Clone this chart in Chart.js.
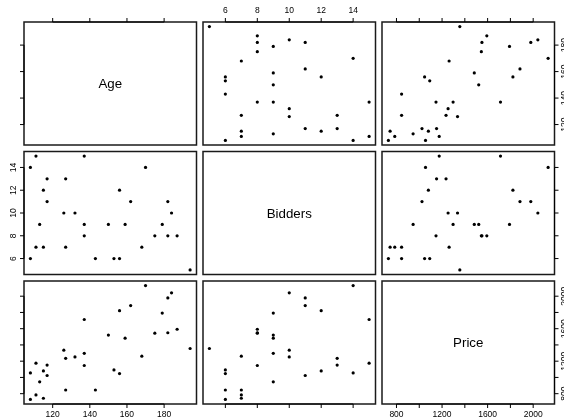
<!DOCTYPE html>
<html><head><meta charset="utf-8">
<script src="https://cdn.jsdelivr.net/npm/chart.js@4"></script>
<style>
html,body{margin:0;padding:0;background:#fff;overflow:hidden;width:564px;height:417px;}
canvas{position:absolute;left:0;top:0;}
</style></head><body>
<script>
// Variables (diagonal labels)
const variableNames = ["Age", "Bidders", "Price"];
// Observations (grandfather clock auctions)
const age = [127,115,127,150,156,182,156,132,137,113,137,117,137,153,117,126,170,182,162,184,143,159,108,175,108,179,111,187,111,115,194,168];
const bidders = [13,12,7,9,6,11,12,10,9,9,15,11,8,6,13,10,14,8,11,10,6,9,14,8,6,9,15,8,7,7,5,7];
const price = [1235,1080,845,1522,1047,1979,1822,1253,1297,946,1713,1024,1147,1092,1152,1336,2131,1550,1884,2041,845,1483,1055,1545,729,1792,1175,1593,785,744,1356,1262];
// Tick values and labels
const ageTicks = [120,140,160,180];
const ageTickLabels = ["120","140","160","180"];
const bidderTicks = [6,8,10,12,14];
const bidderTickLabels = ["6","8","10","12","14"];
const priceTicks = [800,1000,1200,1400,1600,1800,2000];
const priceTickLabels = ["800","","1200","","1600","","2000"];

const vars = [
  {name: variableNames[0], values: age, ticks: ageTicks, labels: ageTickLabels},
  {name: variableNames[1], values: bidders, ticks: bidderTicks, labels: bidderTickLabels},
  {name: variableNames[2], values: price, ticks: priceTicks, labels: priceTickLabels}
];
vars.forEach(v => {
  const mn = Math.min(...v.values), mx = Math.max(...v.values), ext = (mx - mn) * 0.04;
  v.min = mn - ext; v.max = mx + ext;
});

const W = 564, H = 417;
const colLeft = [24, 203, 382];
const colW = 172.5;
const rowTop = [22, 151.5, 281];
const rowH = 123;

const TICK_FONT = '8.5px "Liberation Sans", Arial, Helvetica, sans-serif';
const LABEL_FONT = '13.3px "Liberation Sans", Arial, Helvetica, sans-serif';

const panelPlugin = {
  id: 'panel',
  afterDraw(chart, args, opts) {
    const ctx = chart.ctx, a = chart.chartArea;
    ctx.save();
    ctx.strokeStyle = '#1a1a1a';
    ctx.lineWidth = 1.5;
    ctx.strokeRect(a.left, a.top, a.right - a.left, a.bottom - a.top);
    if (opts.label) {
      ctx.fillStyle = '#000';
      ctx.font = LABEL_FONT;
      ctx.textAlign = 'center';
      ctx.textBaseline = 'middle';
      ctx.fillText(opts.label, (a.left + a.right) / 2, (a.top + a.bottom) / 2 + 1);
    }
    ctx.font = TICK_FONT;
    ctx.fillStyle = '#000';
    ctx.textAlign = 'center';
    ctx.textBaseline = 'middle';
    for (const ax of (opts.axes || [])) {
      const horiz = ax.side === 'top' || ax.side === 'bottom';
      const scale = horiz ? chart.scales.x : chart.scales.y;
      const pos = ax.ticks.map(t => scale.getPixelForValue(t));
      ctx.strokeStyle = '#000';
      ctx.lineWidth = 1;
      ctx.beginPath();
      if (horiz) {
        const y0 = ax.side === 'top' ? a.top : a.bottom;
        const d = ax.side === 'top' ? -4 : 4;
        ctx.moveTo(pos[0], y0); ctx.lineTo(pos[pos.length - 1], y0);
        pos.forEach(p => { ctx.moveTo(p, y0); ctx.lineTo(p, y0 + d); });
      } else {
        const x0 = ax.side === 'left' ? a.left : a.right;
        const d = ax.side === 'left' ? -4 : 4;
        ctx.moveTo(x0, pos[0]); ctx.lineTo(x0, pos[pos.length - 1]);
        pos.forEach(p => { ctx.moveTo(x0, p); ctx.lineTo(x0 + d, p); });
      }
      ctx.stroke();
      if (ax.showLabels) {
        ax.labels.forEach((lab, i) => {
          if (!lab) return;
          const p = pos[i];
          if (ax.side === 'top') ctx.fillText(lab, p, a.top - 11);
          else if (ax.side === 'bottom') ctx.fillText(lab, p, a.bottom + 10.5);
          else {
            const x = ax.side === 'left' ? a.left - 10.5 : a.right + 10.5;
            ctx.save();
            ctx.translate(x, p);
            ctx.rotate(-Math.PI / 2);
            ctx.fillText(lab, 0, 0);
            ctx.restore();
          }
        });
      }
    }
    ctx.restore();
  }
};

for (let r = 0; r < 3; r++) {
  for (let c = 0; c < 3; c++) {
    const xv = vars[c], yv = vars[r];
    const axes = [];
    if (r === 0) axes.push({side: 'top', ticks: xv.ticks, labels: xv.labels, showLabels: c % 2 === 1});
    if (r === 2) axes.push({side: 'bottom', ticks: xv.ticks, labels: xv.labels, showLabels: c % 2 === 0});
    if (c === 0) axes.push({side: 'left', ticks: yv.ticks, labels: yv.labels, showLabels: r % 2 === 1});
    if (c === 2) axes.push({side: 'right', ticks: yv.ticks, labels: yv.labels, showLabels: r % 2 === 0});
    const pts = (r === c) ? [] : xv.values.map((x, i) => ({x: x, y: yv.values[i]}));
    const cv = document.createElement('canvas');
    cv.width = W; cv.height = H;
    cv.style.width = W + 'px'; cv.style.height = H + 'px';
    document.body.appendChild(cv);
    new Chart(cv, {
      type: 'scatter',
      data: {datasets: [{data: pts, pointRadius: 1.6, pointBackgroundColor: '#000', pointBorderWidth: 0, showLine: false}]},
      options: {
        responsive: false,
        animation: false,
        events: [],
        layout: {padding: {left: colLeft[c], top: rowTop[r], right: W - colLeft[c] - colW, bottom: H - rowTop[r] - rowH}},
        scales: {
          x: {type: 'linear', display: false, min: xv.min, max: xv.max},
          y: {type: 'linear', display: false, min: yv.min, max: yv.max}
        },
        plugins: {
          legend: {display: false},
          tooltip: {enabled: false},
          panel: {label: r === c ? xv.name : null, axes: axes}
        }
      },
      plugins: [panelPlugin]
    });
  }
}
</script>
</body></html>
